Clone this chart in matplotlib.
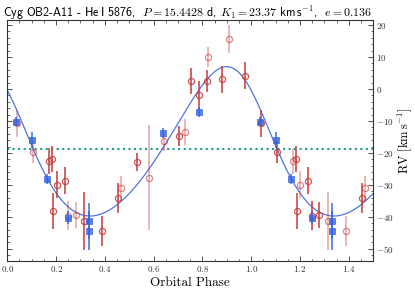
import numpy as np
import matplotlib
matplotlib.use("Agg")
import matplotlib.pyplot as plt
from matplotlib.ticker import MultipleLocator

plt.rcParams['mathtext.fontset'] = 'cm'
plt.rcParams['axes.formatter.use_mathtext'] = True

# ---- orbital solution (from title) ----
P = 15.4428
K1 = 23.37
ecc = 0.136
omega_deg = 44.0
gamma = -18.65
phase_peri = 0.994

# ---- red open circles (phase, RV, error) ----
red_phase = [0.040, 0.106, 0.170, 0.184, 0.202, 0.187, 0.235, 0.250, 0.280, 0.315,
             0.390, 0.455, 0.465, 0.532, 0.580, 0.642, 0.706, 0.729, 0.752, 0.785,
             0.817, 0.823, 0.879, 0.909, 0.973]
red_rv = [-10.7, -19.8, -22.6, -21.9, -30.0, -38.1, -28.75, -39.6, -39.4, -41.25,
          -44.4, -34.2, -31.0, -22.8, -27.75, -16.25, -14.7, -13.5, 2.6, -2.0,
          2.6, 9.9, 3.0, 15.6, 4.2]
red_err = [4.2, 3.4, 4.1, 4.0, 4.2, 5.6, 4.2, 4.5, 4.2, 9.1,
           4.8, 4.7, 3.9, 2.8, 16.5, 3.1, 3.2, 4.1, 4.0, 4.4,
           3.4, 3.1, 4.2, 4.3, 4.1]
# shade of each drawn copy: 1 = dark, 0 = light
red_shade = [0, 0, 1, 1, 1, 1, 1, 0, 0, 1,
             1, 1, 0, 1, 0, 0, 1, 0, 1, 1,
             1, 0, 1, 0, 1]
red_shade_rep = [1, 1, 0, 1, 0, 1, 1, 1, 1, 0,
                 0, 1, 0, 1, 0, 0, 1, 0, 1, 1,
                 1, 0, 1, 0, 1]

# ---- blue squares ----
blue_phase = [0.035, 0.100, 0.163, 0.250, 0.333, 0.333, 0.640, 0.785]
blue_rv = [-10.2, -16.1, -28.1, -40.3, -41.3, -44.3, -13.7, -7.2]
blue_err = [1.5, 2.5, 1.5, 2.0, 5.5, 6.0, 1.5, 1.6]

RED = '#c43a3a'
BLUE = '#3563e0'
CURVE = '#4f74e3'
TEAL = '#1a9c8c'


def kepler_rv(ph):
    M = 2 * np.pi * (ph - phase_peri)
    E = M.copy()
    for _ in range(50):
        E = E - (E - ecc * np.sin(E) - M) / (1 - ecc * np.cos(E))
    nu = 2 * np.arctan2(np.sqrt(1 + ecc) * np.sin(E / 2), np.sqrt(1 - ecc) * np.cos(E / 2))
    w = np.radians(omega_deg)
    return gamma + K1 * (np.cos(nu + w) + ecc * np.cos(w))


fig = plt.figure(figsize=(4.15, 2.88), dpi=100)
ax = fig.add_axes([0.0176, 0.0938, 0.8814, 0.8368])

xmax = 1.5
# red points
for p, v, er, s, sr in zip(red_phase, red_rv, red_err, red_shade, red_shade_rep):
    copies = [(p, s)]
    if p + 1 <= xmax:
        copies.append((p + 1, sr))
    for x, sh in copies:
        a = 0.85 if sh else 0.4
        ax.errorbar([x], [v], yerr=[er], fmt='none', ecolor=RED,
                    elinewidth=1.3, alpha=a, capsize=0, zorder=3)
        ax.plot([x], [v], 'o', mfc='none', mec=RED, ms=4.4, mew=0.9,
                alpha=max(a, 0.6), zorder=3)

# blue points
for p, v, er in zip(blue_phase, blue_rv, blue_err):
    xs = [p] + ([p + 1] if p + 1 <= xmax else [])
    for x in xs:
        ax.errorbar([x], [v], yerr=[er], fmt='s', mfc=BLUE, mec=BLUE, ecolor=BLUE,
                    ms=4.5, mew=0.6, elinewidth=1.3, alpha=0.8, capsize=0, zorder=4)

# model curve
ph = np.linspace(0, xmax, 600)
ax.plot(ph, kepler_rv(ph), color=CURVE, lw=0.9, zorder=2)

# systemic velocity
ax.axhline(gamma, color=TEAL, ls=':', lw=1.5, zorder=1)

ax.set_xlim(0, xmax)
ax.set_ylim(-53.8, 21.6)

ax.xaxis.set_major_locator(MultipleLocator(0.2))
ax.xaxis.set_minor_locator(MultipleLocator(0.05))
ax.yaxis.set_major_locator(MultipleLocator(10))
ax.yaxis.set_minor_locator(MultipleLocator(2))
ax.tick_params(which='both', direction='in', top=True, right=True, left=True, bottom=True,
               labelleft=False, labelright=True, labelsize=6.5, colors='#333333', pad=2)
ax.tick_params(which='major', length=3.5, width=0.6)
ax.tick_params(which='minor', length=1.8, width=0.5)
for lab in ax.get_xticklabels() + ax.get_yticklabels():
    lab.set_fontfamily('cmr10')
for sp in ax.spines.values():
    sp.set_color('#333333')
    sp.set_linewidth(0.8)

ax.yaxis.set_label_position('right')
ax.set_ylabel(r'RV $[\mathrm{km\,s^{-1}}]$', fontfamily='cmr10', fontsize=9, labelpad=1)
ax.set_xlabel('Orbital Phase', fontfamily='cmr10', fontsize=9.5, labelpad=2)

fig.text(0.008, 0.985,
         r'Cyg OB2-A11 - He$\,$I 5876,  $P = 15.4428$ d, $K_1 = 23.37$ km$\,$s$^{-1}$,  $e = 0.136$',
         fontfamily='cmss10', fontsize=8.6, ha='left', va='top')

fig.savefig('out.png', dpi=100)
